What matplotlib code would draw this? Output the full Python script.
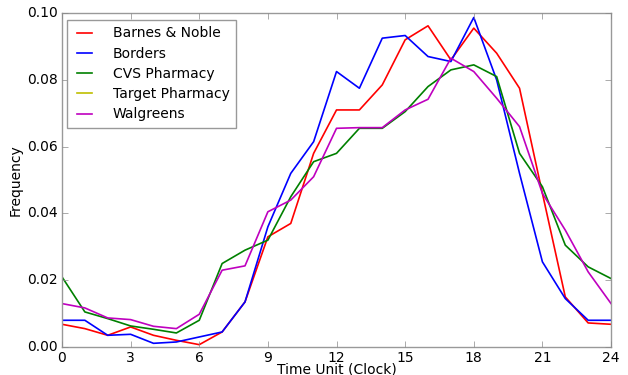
import matplotlib
matplotlib.use("Agg")
import matplotlib.pyplot as plt

plt.style.use("classic")

hours = list(range(25))
barnes = [0.0068, 0.0055, 0.0035, 0.0060, 0.0035, 0.0020, 0.0007, 0.0045, 0.0135, 0.0330,
          0.0370, 0.0580, 0.0710, 0.0710, 0.0785, 0.0920, 0.0962, 0.0860, 0.0955, 0.0880,
          0.0775, 0.0460, 0.0150, 0.0072, 0.0068]
borders = [0.0080, 0.0080, 0.0035, 0.0038, 0.0011, 0.0015, 0.0030, 0.0045, 0.0135, 0.0360,
           0.0520, 0.0615, 0.0825, 0.0775, 0.0925, 0.0933, 0.0870, 0.0855, 0.0987, 0.0800,
           0.0520, 0.0255, 0.0145, 0.0080, 0.0080]
cvs = [0.0210, 0.0105, 0.0085, 0.0063, 0.0053, 0.0042, 0.0080, 0.0250, 0.0290, 0.0320,
       0.0450, 0.0555, 0.0580, 0.0655, 0.0655, 0.0705, 0.0780, 0.0830, 0.0845, 0.0810,
       0.0580, 0.0480, 0.0305, 0.0240, 0.0205]
target = []
walgreens = [0.0130, 0.0117, 0.0087, 0.0082, 0.0062, 0.0055, 0.0098, 0.0230, 0.0243, 0.0405,
             0.0440, 0.0510, 0.0655, 0.0657, 0.0657, 0.0710, 0.0742, 0.0865, 0.0825, 0.0745,
             0.0660, 0.0460, 0.0350, 0.0225, 0.0130]

fig = plt.figure(figsize=(6.28, 3.75), dpi=100, facecolor="white")
ax = fig.add_axes([0.0987, 0.0747, 0.8743, 0.8903])

ax.plot(hours, barnes, color="r", lw=1.2, label="Barnes & Noble")
ax.plot(hours, borders, color="b", lw=1.2, label="Borders")
ax.plot(hours, cvs, color="g", lw=1.2, label="CVS Pharmacy")
ax.plot(hours[:len(target)], target, color="y", lw=1.2, label="Target Pharmacy")
ax.plot(hours, walgreens, color="m", lw=1.2, label="Walgreens")

ax.set_xlim(0, 24)
ax.set_ylim(0, 0.10)
ax.set_xticks(range(0, 25, 3))
ax.set_yticks([0.0, 0.02, 0.04, 0.06, 0.08, 0.10])
ax.set_yticklabels(["0.00", "0.02", "0.04", "0.06", "0.08", "0.10"])
ax.tick_params(labelsize=10, color="#888888", pad=3)
for s in ax.spines.values():
    s.set_color("#999999")
ax.set_xlabel("Time Unit (Clock)", fontsize=10, labelpad=-2)
ax.set_ylabel("Frequency", fontsize=10, labelpad=3)

leg = ax.legend(loc="upper left", fontsize=10, fancybox=False, handlelength=1.65,
                handletextpad=1.2, borderpad=0.45, labelspacing=0.45,
                borderaxespad=0, bbox_to_anchor=(0.009, 0.979))
leg.get_frame().set_edgecolor("#999999")

fig.savefig("out.png", dpi=100, facecolor="white")
